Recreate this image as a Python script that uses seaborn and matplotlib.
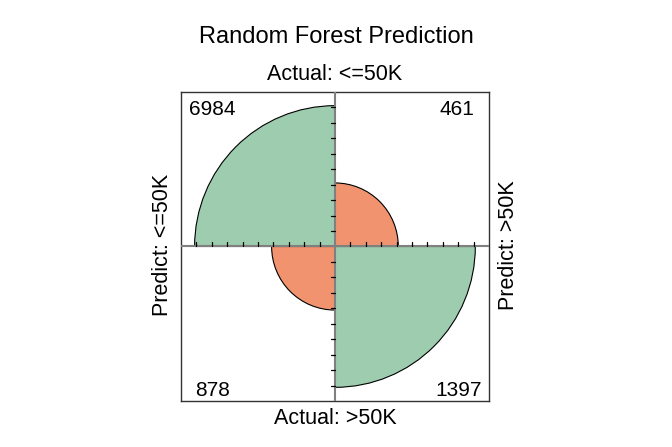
import numpy as np
import matplotlib
matplotlib.use("Agg")
import matplotlib.pyplot as plt
import seaborn as sns
from matplotlib.patches import Wedge

# confusion table: rows = Predict (<=50K, >50K), cols = Actual (<=50K, >50K)
predict_levels = ["<=50K", ">50K"]
actual_levels = ["<=50K", ">50K"]
counts = np.array([[6984, 878],
                   [461, 1397]])
tick_steps = [0.1, 0.2, 0.3, 0.4, 0.5, 0.6, 0.7, 0.8, 0.9]

sns.set_theme(style="white")
plt.rcParams['font.family'] = ['Liberation Sans', 'DejaVu Sans']
plt.rcParams['text.color'] = 'black'

# standardize margins (iterative proportional fitting), rows and cols sum to 1
std = counts.astype(float)
for _ in range(200):
    std = std / std.sum(axis=1, keepdims=True)
    std = std / std.sum(axis=0, keepdims=True)
radius = np.sqrt(std)

green = "#9dcdae"
orange = "#f0936e"

fig = plt.figure(figsize=(6.72, 4.47), dpi=100)
ax = fig.add_axes([0.2693, 0.1029, 0.4583, 0.6913])
ax.set_xlim(-1, 1)
ax.set_ylim(-1, 1)

# quadrant angles: (predict i, actual j)
angles = {(0, 0): (90, 180), (1, 0): (0, 90), (0, 1): (180, 270), (1, 1): (270, 360)}
for (i, j), (a0, a1) in angles.items():
    col = green if i == j else orange
    ax.add_patch(Wedge((0, 0), radius[i, j], a0, a1, facecolor=col,
                       edgecolor="black", linewidth=0.8, zorder=2))

ax.axhline(0, color="#808080", lw=1.5, zorder=3)
ax.axvline(0, color="#808080", lw=1.5, zorder=3)
tl = 0.027
for t in tick_steps:
    for s in (-1, 1):
        ax.plot([s * t, s * t], [0, tl], color="black", lw=0.9, zorder=4)
        ax.plot([-tl, 0], [s * t, s * t], color="black", lw=0.9, zorder=4)

fs = 15
ax.text(-0.948, 0.945, str(counts[0, 0]), ha="left", va="top", fontsize=fs)
ax.text(0.905, 0.945, str(counts[1, 0]), ha="right", va="top", fontsize=fs)
ax.text(-0.909, -0.968, str(counts[0, 1]), ha="left", va="baseline", fontsize=fs)
ax.text(0.955, -0.968, str(counts[1, 1]), ha="right", va="baseline", fontsize=fs)

ax.set_xticks([])
ax.set_yticks([])
for sp in ax.spines.values():
    sp.set_color("#333333")
    sp.set_linewidth(1.0)

fig.text(0.5, 1 - 37 / 447, "Random Forest Prediction", ha="center", va="center", fontsize=17)
fig.text(335 / 672, 1 - 75 / 447, "Actual: " + actual_levels[0], ha="center", va="center", fontsize=15.5)
fig.text(335 / 672, 1 - 418 / 447, "Actual: " + actual_levels[1], ha="center", va="center", fontsize=15.5)
fig.text(163 / 672, 1 - 245 / 447, "Predict: " + predict_levels[0], ha="center", va="center",
         rotation=90, fontsize=15.5)
fig.text(508 / 672, 1 - 245 / 447, "Predict: " + predict_levels[1], ha="center", va="center",
         rotation=90, fontsize=15.5)

fig.savefig("out.png", dpi=100)
